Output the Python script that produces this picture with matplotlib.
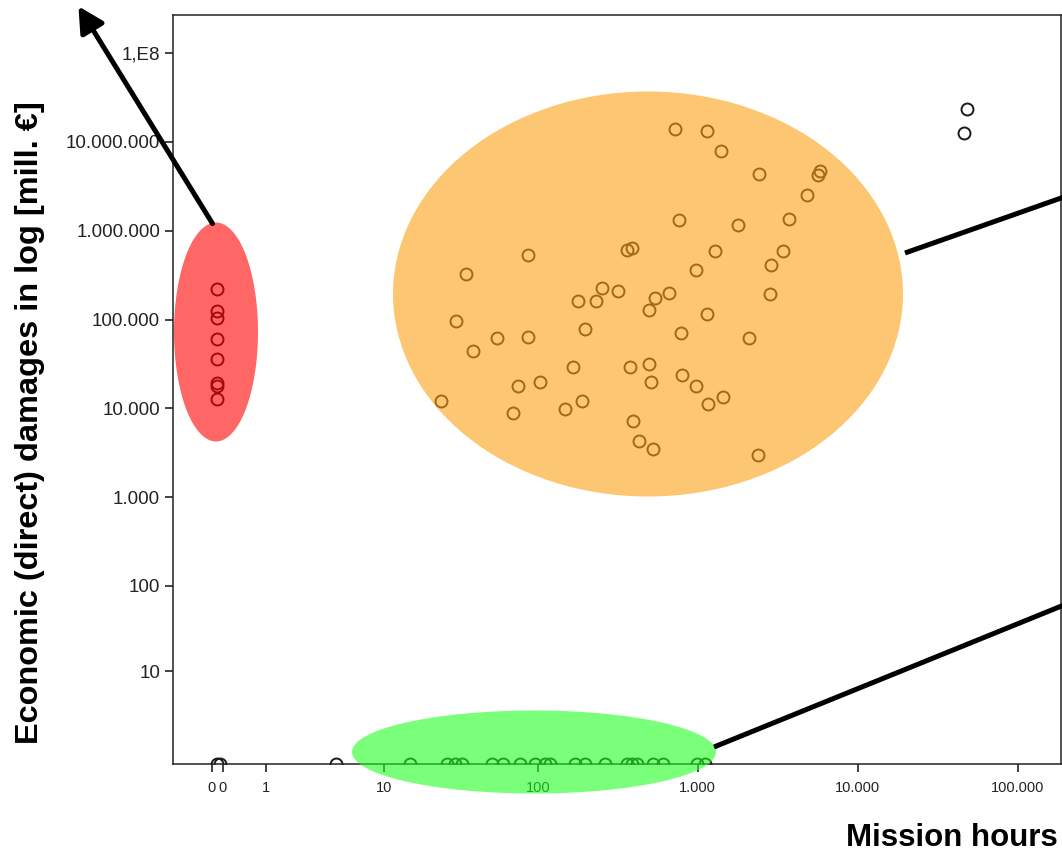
"""Mission hours vs. economic damages, log scatter with highlighted clusters."""
import matplotlib
matplotlib.use("Agg")
import matplotlib.pyplot as plt
import numpy as np
from matplotlib.patches import Ellipse, FancyArrowPatch
from matplotlib.lines import Line2D

W, H = 1062, 859

# values (hours, damages)
red_hours = [0, 0, 0, 0, 0, 0, 0, 0]
red_damage = [221000, 126000, 104000, 60700, 36200, 19300, 18000, 12900]

orange_hours = [719, 1141, 1400, 2403, 5800, 5680, 4795, 766, 1786, 3740,
                86.6, 360, 389, 1290, 3427, 34.8, 972, 2863, 252, 317,
                178, 230, 542, 665, 494, 2845, 1141, 29.8, 197, 784,
                54.5, 86.3, 2097, 38.7, 165, 374, 494, 800, 74, 102,
                508, 976, 23.8, 187, 148, 1152, 1428, 69.4, 395, 431,
                521, 2376]
orange_damage = [1.41e7, 1.32e7, 7.85e6, 4.37e6, 4.72e6, 4.23e6, 2.54e6, 1.31e6, 1.15e6, 1.36e6,
                 5.33e5, 6.07e5, 6.44e5, 5.96e5, 5.85e5, 3.29e5, 3.62e5, 4.07e5, 2.25e5, 2.12e5,
                 1.63e5, 1.63e5, 1.77e5, 1.98e5, 1.29e5, 1.96e5, 1.16e5, 9.75e4, 7.78e4, 7.10e4,
                 6.23e4, 6.44e4, 6.17e4, 4.41e4, 2.89e4, 2.89e4, 3.15e4, 2.39e4, 1.80e4, 2.0e4,
                 1.96e4, 1.81e4, 1.22e4, 1.2e4, 9750, 1.11e4, 1.33e4, 8930, 7260, 4340,
                 3520, 2960]

green_hours = [14.9, 26.1, 29.4, 32.6, 50.7, 59.6, 76.4, 95.1, 110, 118,
               170, 196, 262, 360, 387, 416, 524, 605, 988, 1108]
green_damage = [0] * len(green_hours)

other_hours = [0, 0.03, 4.5, 47900, 46300]
other_damage = [0, 0, 0, 2.33e7, 1.24e7]

x_ticks = [-0.08, 0.08, 1, 10, 100, 1000, 10000, 100000]
x_labels = ["0", "0", "1", "10", "100", "1.000", "10.000", "100.000"]
y_ticks = [10, 100, 1e3, 1e4, 1e5, 1e6, 1e7, 1e8]
y_labels = ["10", "100", "1.000", "10.000", "100.000", "1.000.000", "10.000.000", "1,E8"]

# overlay shapes in image pixels: (cx, cy, w, h, colour)
ELLIPSES = [
    (216, 332, 84, 219, (1.0, 0.0, 0.0)),
    (648, 294, 510, 405, (0.99, 0.63, 0.08)),
    (534, 752, 364, 83, (0.13, 1.0, 0.13)),
]
LINES = [((905, 253), (1064, 197)), ((714, 747), (1064, 605))]
ARROW = ((214, 226), (77, 4))


def fwd(v):
    v = np.asarray(v, dtype=float)
    return np.log10(np.maximum(v + 1, 1e-9))


def inv(v):
    return 10 ** np.asarray(v, dtype=float) - 1


def fig_xy(p):
    return p[0] / W, 1 - p[1] / H


fig = plt.figure(figsize=(W / 100, H / 100), dpi=100)
ax = fig.add_axes([172.7 / W, 95 / H, (1061 - 172.7) / W, (764 - 14.7) / H])
ax.set_xscale("function", functions=(fwd, inv))
ax.set_yscale("function", functions=(fwd, inv))

hours = red_hours + orange_hours + green_hours + other_hours
damage = red_damage + orange_damage + green_damage + other_damage
ax.plot(hours, damage, "o", ms=8.6, mfc="none", mec="#1a1a1a", mew=1.4)

ax.set_xlim(-0.475, 186000)
ax.set_ylim(0, 2.69e8)
ax.set_xticks(x_ticks)
ax.set_xticklabels(x_labels)
ax.set_yticks(y_ticks)
ax.set_yticklabels(y_labels)
ax.minorticks_off()
ax.tick_params(axis="both", length=6, width=1.2, color="#222222", labelcolor="#222222")
ax.tick_params(axis="y", labelsize=13.5, pad=3)
ax.tick_params(axis="x", labelsize=10.5, pad=6)
for lab in ax.get_xticklabels():
    lab.set_family(["Liberation Sans Narrow", "Liberation Sans", "DejaVu Sans"])
for lab in ax.get_yticklabels():
    lab.set_family(["Liberation Sans", "DejaVu Sans"])
for sp in ax.spines.values():
    sp.set_linewidth(1.1)
    sp.set_color("#222222")

for cx, cy, w, h, col in ELLIPSES:
    e = Ellipse(fig_xy((cx, cy)), w / W, h / H, transform=fig.transFigure,
                fc=col, ec="none", alpha=0.6, zorder=5)
    fig.add_artist(e)

for a, b in LINES:
    (x0, y0), (x1, y1) = fig_xy(a), fig_xy(b)
    fig.add_artist(Line2D([x0, x1], [y0, y1], transform=fig.transFigure,
                          color="black", lw=3.6, solid_capstyle="butt", zorder=6))

arr = FancyArrowPatch(fig_xy(ARROW[0]), fig_xy(ARROW[1]), transform=fig.transFigure,
                      arrowstyle="-|>,head_length=0.85,head_width=0.45",
                      mutation_scale=18, color="black", lw=3.6, zorder=6)
fig.add_artist(arr)

bold = dict(family=["Liberation Sans", "DejaVu Sans"], weight="bold")
fig.text(30 / W, 1 - 423 / H, "Economic (direct) damages in log [mill. €]",
         rotation=90, ha="center", va="center", fontsize=23.4, **bold)
fig.text(1058 / W, 1 - 838 / H, "Mission hours", ha="right", va="center",
         fontsize=22.5, **bold)

fig.savefig("out.png", dpi=100)
